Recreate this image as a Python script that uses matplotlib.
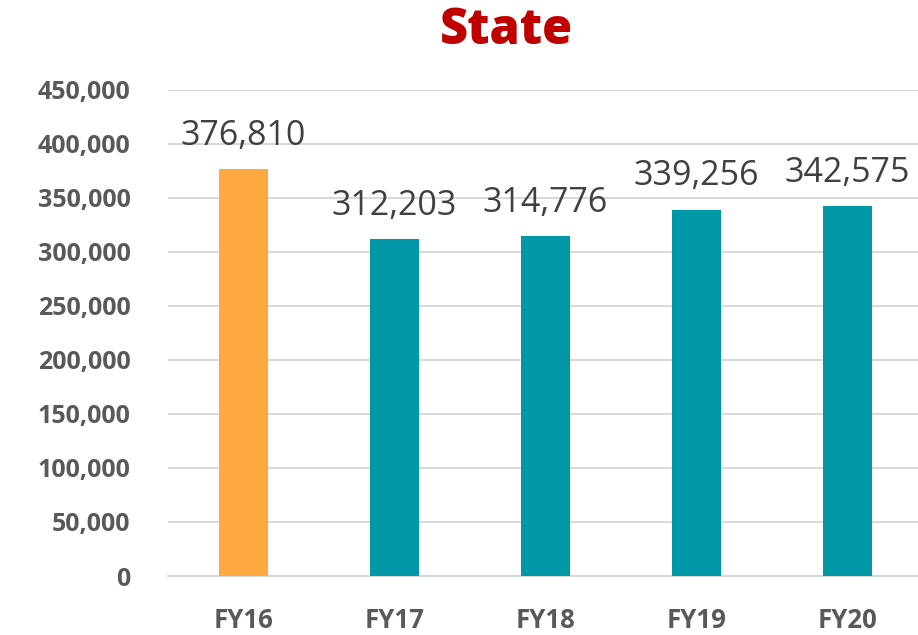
import matplotlib.pyplot as plt

years = ['FY16', 'FY17', 'FY18', 'FY19', 'FY20']
counts = [376810, 312203, 314776, 339256, 342575]
bar_colors = ['#FFA940', '#0097A7', '#0097A7', '#0097A7', '#0097A7']
y_ticks = [0, 50000, 100000, 150000, 200000, 250000, 300000, 350000, 400000, 450000]

plt.rcParams['font.family'] = ['Open Sans', 'DejaVu Sans']

fig = plt.figure(figsize=(9.18, 6.35), dpi=100)
ax = fig.add_axes([168 / 918, 59 / 635, 755 / 918, 486 / 635])

x = range(len(years))
bars = ax.bar(x, counts, width=0.32, color=bar_colors, zorder=3)

for xi, v in zip(x, counts):
    ax.text(xi, v + 15000, f'{v:,}', ha='center', va='bottom',
            fontsize=24.5, fontweight='medium', color='#404040')

ax.set_xlim(-0.5, len(years) - 0.5)
ax.set_ylim(0, 450000)
ax.set_yticks(y_ticks)
ax.set_yticklabels([f'{t:,}' for t in y_ticks], fontsize=18, fontweight='bold', color='#595959')
ax.set_xticks(list(x))
ax.set_xticklabels(years, fontsize=18.5, fontweight='bold', color='#595959')
ax.tick_params(axis='both', length=0)
ax.tick_params(axis='y', pad=27)
ax.tick_params(axis='x', pad=22)

ax.grid(axis='y', color='#D9D9D9', linewidth=1.5, zorder=0)
for side in ['top', 'right', 'left']:
    ax.spines[side].set_visible(False)
ax.spines['bottom'].set_color('#D9D9D9')
ax.spines['bottom'].set_linewidth(1.5)

fig.text(506 / 918, 1 - 31 / 635, 'State', ha='center', va='center',
         fontsize=35, fontweight='heavy', color='#C00000')

fig.savefig('out.png', dpi=100)
